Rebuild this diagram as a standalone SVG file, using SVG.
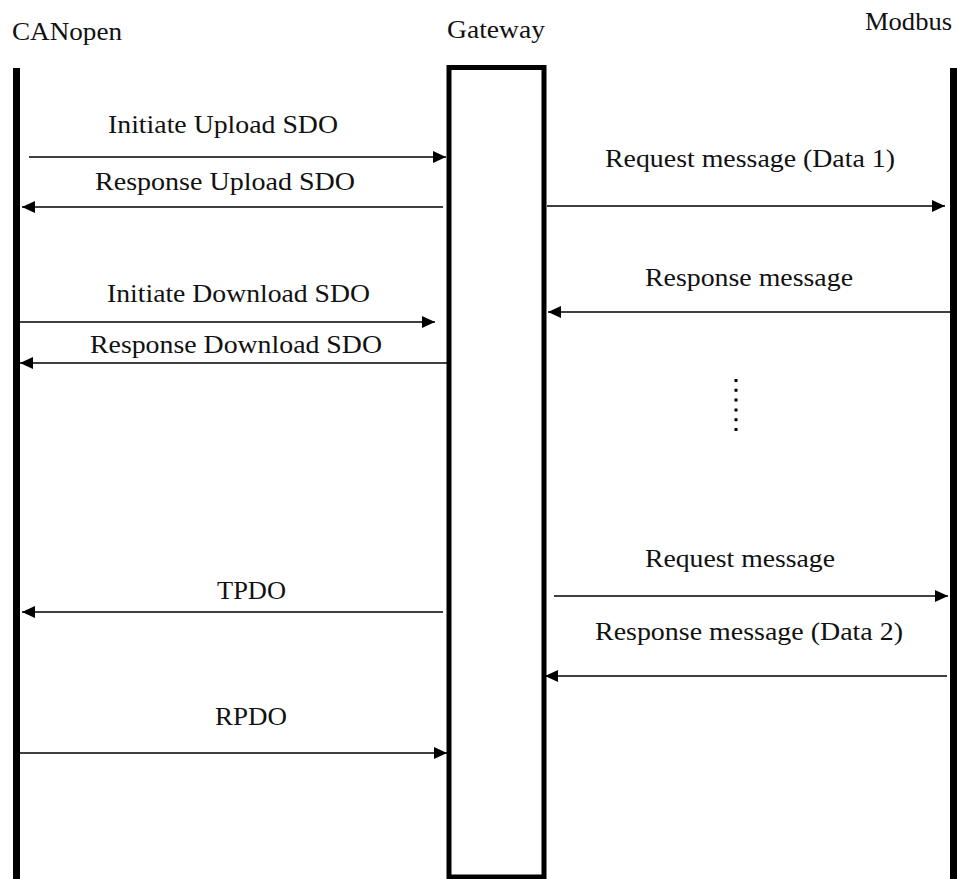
<svg xmlns="http://www.w3.org/2000/svg" width="957" height="879" viewBox="0 0 957 879">
  <style>
    .lbl { font-family: "Liberation Serif", "Times New Roman", serif; font-size: 26px; fill: #111; }
    .title { font-family: "Liberation Serif", "Times New Roman", serif; font-size: 25px; fill: #111; }
    .msg { stroke: #000; stroke-width: 1.5; fill: none; marker-end: url(#head); }
    .life { fill: #000; }
  </style>
  <defs>
    <marker id="head" markerUnits="userSpaceOnUse" markerWidth="14" markerHeight="13" refX="13" refY="6" orient="auto">
      <path d="M0,0 L13,6 L0,12 z" fill="#000"/>
    </marker>
  </defs>
  <rect width="957" height="879" fill="#fff"/>

  <!-- participants -->
  <g id="canopen">
    <text class="title" x="12" y="40" textLength="110" lengthAdjust="spacingAndGlyphs">CANopen</text>
    <rect class="life" x="13" y="68" width="7" height="811"/>
  </g>
  <g id="gateway">
    <text class="title" x="447" y="38" textLength="98" lengthAdjust="spacingAndGlyphs">Gateway</text>
    <rect x="449" y="67.5" width="95" height="809.5" fill="#fff" stroke="#000" stroke-width="5"/>
  </g>
  <g id="modbus">
    <text class="title" x="865" y="30" textLength="87" lengthAdjust="spacingAndGlyphs">Modbus</text>
    <rect class="life" x="950" y="68" width="7" height="811"/>
  </g>

  <!-- messages -->
  <g id="connectors">
    <line class="msg" x1="29" y1="157" x2="446" y2="157"/>
    <line class="msg" x1="443" y1="207" x2="22" y2="207"/>
    <line class="msg" x1="20" y1="322" x2="435" y2="322"/>
    <line class="msg" x1="447" y1="363" x2="20" y2="363"/>
    <line class="msg" x1="547" y1="206" x2="945" y2="206"/>
    <line class="msg" x1="950" y1="312" x2="548" y2="312"/>
    <line class="msg" x1="443" y1="612" x2="22" y2="612"/>
    <line class="msg" x1="20" y1="753" x2="447" y2="753"/>
    <line class="msg" x1="554" y1="596" x2="948" y2="596"/>
    <line class="msg" x1="947" y1="676" x2="545" y2="676"/>
    <!-- ellipsis between exchanges -->
    <line x1="736" y1="379" x2="736" y2="431" stroke="#000" stroke-width="3" stroke-dasharray="3 6.8"/>
  </g>

  <!-- message labels -->
  <g id="labels">
    <text class="lbl" x="108" y="133" textLength="230" lengthAdjust="spacingAndGlyphs">Initiate Upload SDO</text>
    <text class="lbl" x="95" y="190" textLength="260" lengthAdjust="spacingAndGlyphs">Response Upload SDO</text>
    <text class="lbl" x="107" y="302" textLength="263" lengthAdjust="spacingAndGlyphs">Initiate Download SDO</text>
    <text class="lbl" x="90" y="353" textLength="292" lengthAdjust="spacingAndGlyphs">Response Download SDO</text>
    <text class="lbl" x="605" y="167" textLength="290" lengthAdjust="spacingAndGlyphs">Request message (Data 1)</text>
    <text class="lbl" x="645" y="286" textLength="208" lengthAdjust="spacingAndGlyphs">Response message</text>
    <text class="lbl" x="217" y="599" textLength="69" lengthAdjust="spacingAndGlyphs">TPDO</text>
    <text class="lbl" x="215" y="725" textLength="72" lengthAdjust="spacingAndGlyphs">RPDO</text>
    <text class="lbl" x="645" y="567" textLength="190" lengthAdjust="spacingAndGlyphs">Request message</text>
    <text class="lbl" x="595" y="640" textLength="308" lengthAdjust="spacingAndGlyphs">Response message (Data 2)</text>
  </g>
</svg>
